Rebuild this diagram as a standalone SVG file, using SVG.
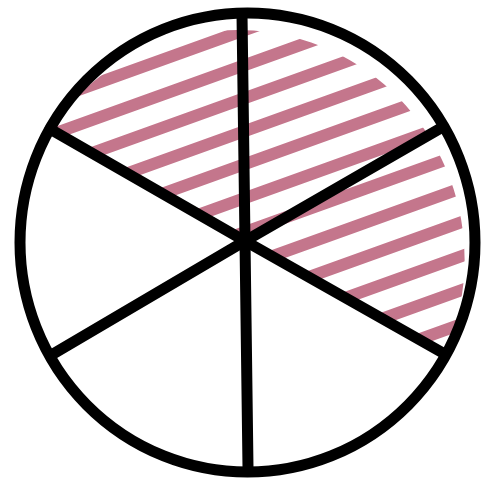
<svg xmlns="http://www.w3.org/2000/svg" width="487" height="486" viewBox="0 0 487 486">
<style>
.hatch{stroke:#c4768c;stroke-width:12;stroke-linecap:round;fill:none}
.ink{stroke:#000;stroke-width:11;stroke-linecap:round;fill:none}
</style>
<defs>
<clipPath id="half">
<path d="M50,129 A227.5,229.5 0 0 1 444,355 Z"/>
</clipPath>
</defs>
<rect width="487" height="486" fill="#fff"/>
<g id="hatching" clip-path="url(#half)">
<line class="hatch" x1="0" y1="118" x2="487" y2="-57"/>
<line class="hatch" x1="0" y1="153" x2="487" y2="-22"/>
<line class="hatch" x1="0" y1="186" x2="487" y2="11"/>
<line class="hatch" x1="0" y1="219" x2="487" y2="44"/>
<line class="hatch" x1="0" y1="252" x2="487" y2="77"/>
<line class="hatch" x1="0" y1="286" x2="487" y2="111"/>
<line class="hatch" x1="0" y1="320" x2="487" y2="145"/>
<line class="hatch" x1="0" y1="354" x2="487" y2="179"/>
<line class="hatch" x1="0" y1="388" x2="487" y2="213"/>
<line class="hatch" x1="0" y1="422" x2="487" y2="247"/>
<line class="hatch" x1="0" y1="456" x2="487" y2="281"/>
<line class="hatch" x1="0" y1="490" x2="487" y2="315"/>
<line class="hatch" x1="0" y1="524" x2="487" y2="349"/>
<line class="hatch" x1="0" y1="558" x2="487" y2="383"/>
</g>
<g id="spokes">
<line class="ink" x1="245" y1="241" x2="242" y2="14"/>
<line class="ink" x1="245" y1="241" x2="248" y2="468"/>
<line class="ink" x1="245" y1="241" x2="50" y2="129"/>
<line class="ink" x1="245" y1="241" x2="441" y2="128"/>
<line class="ink" x1="245" y1="241" x2="443" y2="353"/>
<line class="ink" x1="245" y1="241" x2="53" y2="354"/>
</g>
<g id="circle">
<ellipse class="ink" cx="247.5" cy="242.5" rx="227.5" ry="229.5"/>
</g>
</svg>
